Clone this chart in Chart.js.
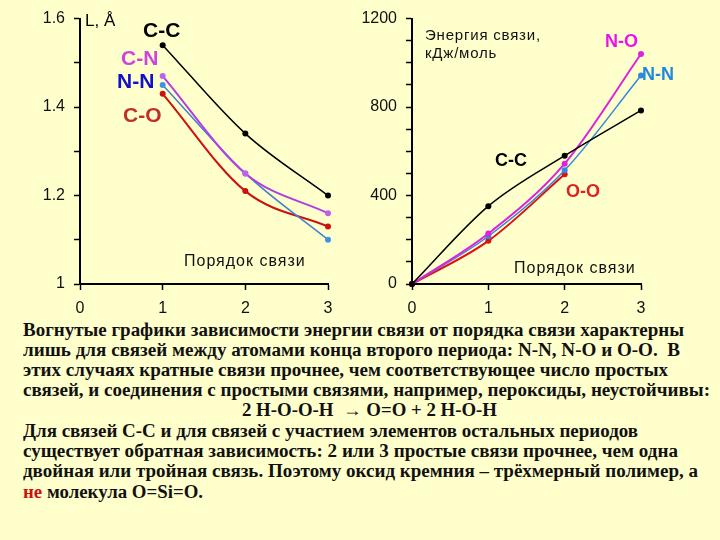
<!DOCTYPE html>
<html>
<head>
<meta charset="utf-8">
<script src="https://cdn.jsdelivr.net/npm/chart.js@4/dist/chart.umd.min.js"></script>
<style>
  body { margin: 0; background: #ffffcc; }
  #page { position: relative; width: 720px; height: 540px; background: #ffffcc; overflow: hidden; }
  canvas { position: absolute; top: 0; }
  .lbl { position: absolute; font-family: Arial, "Liberation Sans", sans-serif; line-height: 1; white-space: nowrap; }
  .big { font-weight: bold; font-size: 21px; }
  .mid { font-weight: bold; font-size: 18px; }
  .txt { position: absolute; left: 23px; font-family: "Liberation Serif", "DejaVu Serif", serif;
         font-weight: bold; font-size: 18px; line-height: 1; white-space: nowrap; color: #111;
         transform-origin: 0 0; }
</style>
</head>
<body>
<div id="page">
  <canvas id="lenChart" width="345" height="320" style="left:0"></canvas>
  <canvas id="enChart" width="310" height="320" style="left:350px"></canvas>

  <div class="lbl" style="left:85px;top:12px;font-size:17px;">L, Å</div>
  <div class="lbl big" style="left:143px;top:19px;color:#000;">C-C</div>
  <div class="lbl big" style="left:121px;top:47px;color:#cc44dd;">C-N</div>
  <div class="lbl big" style="left:117px;top:70px;color:#1010cc;">N-N</div>
  <div class="lbl big" style="left:123px;top:104px;color:#c0302a;">C-O</div>
  <div class="lbl" style="left:184px;top:253px;font-size:16px;letter-spacing:1px;color:#111;">Порядок связи</div>

  <div class="lbl" style="left:425px;top:27px;font-size:15px;letter-spacing:0.8px;color:#111;">Энергия связи,</div>
  <div class="lbl" style="left:425px;top:45px;font-size:15px;letter-spacing:0.8px;color:#111;">кДж/моль</div>
  <div class="lbl mid" style="left:605px;top:32px;color:#ee11ee;">N-O</div>
  <div class="lbl mid" style="left:642px;top:65px;color:#2288dd;">N-N</div>
  <div class="lbl mid" style="left:495px;top:151px;color:#000;">C-C</div>
  <div class="lbl mid" style="left:566px;top:182px;color:#dd2222;">O-O</div>
  <div class="lbl" style="left:514px;top:260px;font-size:16px;letter-spacing:1px;color:#111;">Порядок связи</div>

  <div class="txt" data-w="661" style="top:321px">Вогнутые графики зависимости энергии связи от порядка связи характерны</div>
  <div class="txt" data-w="657" style="top:341px">лишь для связей между атомами конца второго периода: N-N, N-O и O-O.&nbsp; В</div>
  <div class="txt" data-w="645" style="top:361px">этих случаях кратные связи прочнее, чем соответствующее число простых</div>
  <div class="txt" data-w="687" style="top:381px">связей, и соединения с простыми связями, например, пероксиды, неустойчивы:</div>
  <div class="txt" data-w="255" style="top:401px;left:242px">2 H-O-O-H &nbsp;→ O=O + 2 H-O-H</div>
  <div class="txt" data-w="615" style="top:422px">Для связей C-C и для связей с участием элементов остальных периодов</div>
  <div class="txt" data-w="655" style="top:442px">существует обратная зависимость: 2 или 3 простые связи прочнее, чем одна</div>
  <div class="txt" data-w="675" style="top:462px">двойная или тройная связь. Поэтому оксид кремния – трёхмерный полимер, а</div>
  <div class="txt" data-w="180" style="top:483px"><span style="color:#cc1111">не</span> молекула O=Si=O.</div>
</div>

<script>
// bond length vs bond order (left)
const lenOrders = [1, 2, 3];
const lenCC = [1.54, 1.34, 1.20];
const lenCN = [1.47, 1.25, 1.16];
const lenNN = [1.45, 1.25, 1.10];
const lenCO = [1.43, 1.21, 1.13];
const lenTicks = [1, 1.2, 1.4, 1.6];

// bond energy vs bond order (right)
const enOrders = [0, 1, 2, 3];
const enCC = [0, 352, 580, 785];
const enNO = [0, 228, 544, 1040];
const enNN = [0, 216, 514, 943];
const enOO = [0, 195, 496];
const enTicks = [0, 400, 800, 1200];

const pts = (xs, ys) => ys.map((y, i) => ({ x: xs[i], y }));

const line = (data, color, width, dot) => ({
  data,
  borderColor: color,
  backgroundColor: dot || color,
  pointBackgroundColor: dot || color,
  pointBorderWidth: 0,
  pointRadius: 3,
  borderWidth: width,
  cubicInterpolationMode: 'monotone',
  clip: false,
});

const axisFont = { family: 'Arial, "Liberation Sans", sans-serif', size: 16 };

const baseScales = (yMin, yMax, yStep, yTicks, yWidth, fmt) => ({
  x: {
    type: 'linear',
    min: 0,
    max: 3,
    ticks: { stepSize: 1, color: '#111', font: axisFont, padding: 9 },
    grid: { drawOnChartArea: false, tickLength: 6, tickColor: '#000', tickWidth: 1.5 },
    border: { color: '#000', width: 2 },
    afterFit: (s) => { s.height = 36; },
  },
  y: {
    min: yMin,
    max: yMax,
    ticks: {
      stepSize: yStep,
      maxTicksLimit: 20,
      color: '#111',
      font: axisFont,
      padding: 9,
      autoSkip: false,
      callback: (v) => {
        const hit = yTicks.find((t) => Math.abs(t - v) < 1e-6);
        return hit === undefined ? '' : fmt(hit);
      },
    },
    grid: { drawOnChartArea: false, tickLength: 6, tickColor: '#000', tickWidth: 1.5 },
    border: { color: '#000', width: 2 },
    afterFit: (s) => { s.width = yWidth; },
  },
});

const common = {
  responsive: false,
  animation: false,
  plugins: { legend: { display: false }, tooltip: { enabled: false } },
};

new Chart(document.getElementById('lenChart').getContext('2d'), {
  type: 'line',
  data: {
    datasets: [
      line(pts(lenOrders, lenCC), '#000000', 1.5),
      line(pts(lenOrders, lenCN), '#b33ee0', 2, '#c060e8'),
      line(pts(lenOrders, lenNN), '#3f7fd0', 1.5, '#3d93ea'),
      line(pts(lenOrders, lenCO), '#cc1111', 2),
    ],
  },
  options: {
    ...common,
    layout: { padding: { top: 18, right: 17, left: 0, bottom: 0 } },
    scales: baseScales(1, 1.6, 0.1, lenTicks, 80, (v) => String(v)),
  },
});

new Chart(document.getElementById('enChart').getContext('2d'), {
  type: 'line',
  data: {
    datasets: [
      line(pts(enOrders, enCC), '#000000', 1.5),
      line(pts(enOrders, enNO), '#dd22dd', 2),
      line(pts(enOrders, enNN), '#3388dd', 1.5),
      line(pts(enOrders, enOO), '#dd1111', 2),
    ],
  },
  options: {
    ...common,
    layout: { padding: { top: 18, right: 19, left: 0, bottom: 0 } },
    scales: baseScales(0, 1200, 100, enTicks, 62, (v) => String(v)),
  },
});

// squeeze text lines to the widths seen in the picture
function fitLines() {
  document.querySelectorAll('.txt').forEach((el) => {
    el.style.transform = 'none';
    const w = el.getBoundingClientRect().width;
    const target = Number(el.dataset.w);
    el.style.transform = 'scaleX(' + (target / w) + ')';
  });
}
fitLines();
document.fonts.ready.then(fitLines);
</script>
</body>
</html>
